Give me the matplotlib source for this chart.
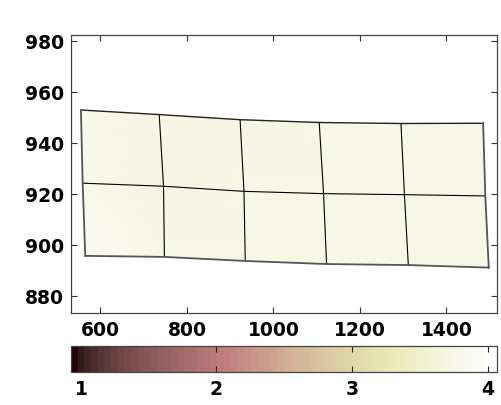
import numpy as np
import matplotlib.pyplot as plt
from matplotlib.colors import Normalize

# --------------------------------------------------------------
# DATA: grid node coordinates (3 rows x 6 columns) and values
# --------------------------------------------------------------
node_x_top = [555, 736, 923, 1106, 1295, 1485]
node_x_mid = [559, 746, 932, 1116, 1303, 1490]
node_x_bot = [565, 748, 935, 1123, 1312, 1498]

node_y_top = [952.8, 951.0, 949.0, 947.9, 947.5, 947.6]
node_y_mid = [924.1, 922.9, 920.9, 920.0, 919.6, 919.1]
node_y_bot = [895.6, 895.2, 893.6, 892.4, 892.0, 891.0]

node_val_top = [3.78, 3.70, 3.69, 3.73, 3.75, 3.76]
node_val_mid = [3.82, 3.71, 3.74, 3.75, 3.77, 3.76]
node_val_bot = [3.90, 3.77, 3.76, 3.76, 3.76, 3.79]

color_limits = [0.927, 4.069]
cbar_ticks = [1, 2, 3, 4]
x_ticks = [600, 800, 1000, 1200, 1400]
y_ticks = [880, 900, 920, 940, 960, 980]

# --------------------------------------------------------------
# FIGURE
# --------------------------------------------------------------
plt.rcParams['font.family'] = ['DejaVu Sans']
plt.rcParams['font.weight'] = 'bold'
plt.rcParams['font.size'] = 13.5

X = np.array([node_x_top, node_x_mid, node_x_bot], dtype=float)
Y = np.array([node_y_top, node_y_mid, node_y_bot], dtype=float)
C = np.array([node_val_top, node_val_mid, node_val_bot], dtype=float)

cmap = plt.get_cmap('pink', 64)
norm = Normalize(vmin=color_limits[0], vmax=color_limits[1])

fig = plt.figure(figsize=(5.02, 4.06), dpi=100)
ax = fig.add_axes([0.1414, 0.2266, 0.8486, 0.6847])

mesh = ax.pcolormesh(X, Y, C, cmap=cmap, norm=norm, shading='gouraud')

# inner grid lines
for i in range(1, X.shape[0] - 1):
    ax.plot(X[i, :], Y[i, :], color='black', lw=0.8)
for j in range(1, X.shape[1] - 1):
    ax.plot(X[:, j], Y[:, j], color='black', lw=0.8)

# outer border
ax.plot(X[0, :], Y[0, :], color='#222222', lw=1.0)
ax.plot(X[-1, :], Y[-1, :], color='#555555', lw=1.3)
ax.plot(X[:, 0], Y[:, 0], color='#555555', lw=1.3)
ax.plot(X[:, -1], Y[:, -1], color='#555555', lw=1.3)

ax.set_xlim(532, 1517)
ax.set_ylim(873.2, 982.2)
ax.set_xticks(x_ticks)
ax.set_yticks(y_ticks)
ax.tick_params(direction='in', length=4, width=0.8, top=True, right=True,
               pad=5, colors='#333333', labelcolor='black')
for spine in ax.spines.values():
    spine.set_color('#444444')
    spine.set_linewidth(0.9)

# --------------------------------------------------------------
# COLORBAR
# --------------------------------------------------------------
cax = fig.add_axes([0.1414, 0.082, 0.8486, 0.0626])
cb = fig.colorbar(mesh, cax=cax, orientation='horizontal', ticks=cbar_ticks)
cb.outline.set_edgecolor('#444444')
cb.outline.set_linewidth(0.9)
cax.tick_params(direction='in', length=4, width=0.8, top=True, bottom=True,
                pad=5, colors='#222222', labelcolor='black')

fig.savefig('out.png', dpi=100)
